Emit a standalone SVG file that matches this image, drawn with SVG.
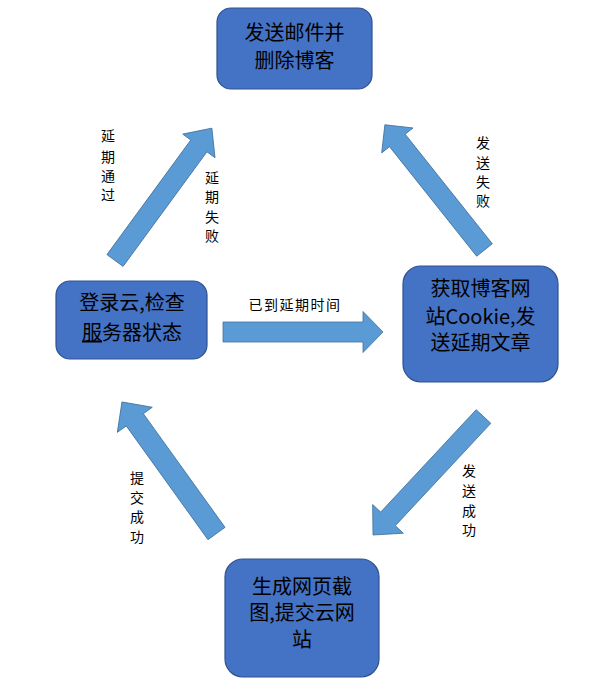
<svg xmlns="http://www.w3.org/2000/svg" width="609" height="689" viewBox="0 0 609 689">
<style>
.node{fill:#4472C4;stroke:#2F528F;stroke-width:1.2}
.nt{font-family:"Noto Sans CJK SC","Noto Sans",sans-serif;font-size:20px;fill:#000;text-anchor:middle}
.arr{fill:#5B9BD5;stroke:#41719C;stroke-width:0.8}
.lb{font-family:"Noto Sans CJK SC","Noto Sans",sans-serif;font-size:14px;fill:#000;text-anchor:middle}
</style>
<rect width="609" height="689" fill="#fff"/>
<g id="connectors">
<g id="a1"><polygon class="arr" transform="translate(115,260.5) rotate(-53.8)" points="0,-10 142,-10 142,-20 164,0 142,20 142,10 0,10"/></g>
<g id="a2"><polygon class="arr" transform="translate(484.5,250) rotate(-128.5)" points="0,-10 140,-10 140,-20 160,0 140,20 140,10 0,10"/></g>
<g id="a3"><polygon class="arr" transform="translate(223,332) rotate(0)" points="0,-10 140,-10 140,-20.5 160,0 140,20.5 140,10 0,10"/></g>
<g id="a4"><polygon class="arr" transform="translate(483.5,416.5) rotate(133)" points="0,-10 140,-10 140,-21 162,0 140,21 140,10 0,10"/></g>
<g id="a5"><polygon class="arr" transform="translate(216.5,533.5) rotate(-125.7)" points="0,-10.5 140,-10.5 140,-21.5 162,0 140,21.5 140,10.5 0,10.5"/></g>
<text class="lb"><tspan x="108" y="141">延</tspan><tspan x="108" y="162">期</tspan><tspan x="108" y="181">通</tspan><tspan x="108" y="200">过</tspan></text>
<text class="lb"><tspan x="212" y="183">延</tspan><tspan x="212" y="202">期</tspan><tspan x="212" y="222">失</tspan><tspan x="212" y="241">败</tspan></text>
<text class="lb"><tspan x="483" y="148">发</tspan><tspan x="483" y="168">送</tspan><tspan x="483" y="187">失</tspan><tspan x="483" y="206">败</tspan></text>
<text class="lb" x="295" y="310" style="letter-spacing:1.5px">已到延期时间</text>
<text class="lb"><tspan x="137" y="483">提</tspan><tspan x="137" y="503">交</tspan><tspan x="137" y="522">成</tspan><tspan x="137" y="542">功</tspan></text>
<text class="lb"><tspan x="469" y="476">发</tspan><tspan x="469" y="496">送</tspan><tspan x="469" y="516">成</tspan><tspan x="469" y="535">功</tspan></text>
</g>
<g id="n1">
<rect class="node" x="217" y="8" width="155" height="81" rx="14"/>
<text class="nt"><tspan x="294.5" y="39.5">发送邮件并</tspan><tspan x="294.5" y="67.5">删除博客</tspan></text>
</g>
<g id="n2">
<rect class="node" x="56" y="281" width="151" height="78" rx="14"/>
<text class="nt"><tspan x="132" y="310">登录云,检查</tspan><tspan x="132" y="339.5"><tspan style="text-decoration:underline">服</tspan>务器状态</tspan></text>
</g>
<g id="n3">
<rect class="node" x="403" y="266" width="155" height="116" rx="18"/>
<text class="nt"><tspan x="480.5" y="296">获取博客网</tspan><tspan x="480.5" y="323.5">站Cookie,发</tspan><tspan x="480.5" y="350">送延期文章</tspan></text>
</g>
<g id="n4">
<rect class="node" x="225" y="559" width="154" height="118" rx="18"/>
<text class="nt"><tspan x="302" y="593.5">生成网页截</tspan><tspan x="302" y="620">图,提交云网</tspan><tspan x="302" y="646.5">站</tspan></text>
</g>
</svg>
